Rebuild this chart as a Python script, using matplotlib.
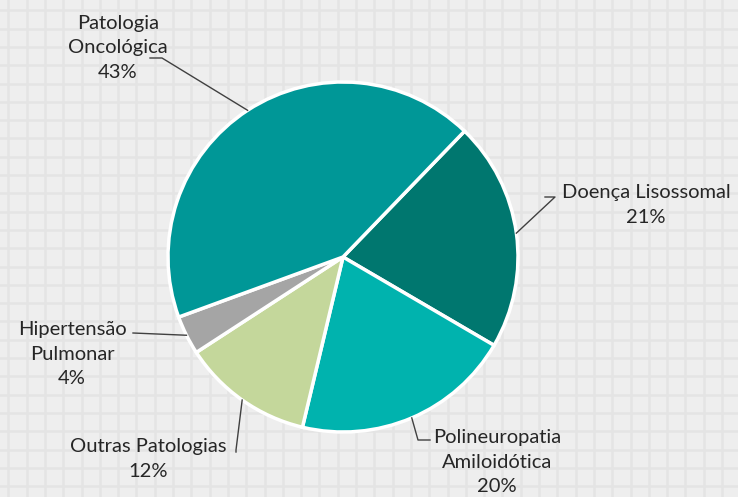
import numpy as np
import matplotlib
matplotlib.use("Agg")
import matplotlib.pyplot as plt

plt.rcParams['font.family'] = ['Lato', 'DejaVu Sans']

# dados (ordem no sentido horário a partir do topo direito)
labels = ["Doença Lisossomal", "Polineuropatia\nAmiloidótica", "Outras Patologias",
          "Hipertensão\nPulmonar", "Patologia\nOncológica"]
values = [21.2, 20.3, 12.1, 3.6, 42.8]
pct_labels = ["21%", "20%", "12%", "4%", "43%"]
colors = ["#00776f", "#00b3ae", "#c4d79b", "#a5a5a5", "#009797"]

W, H = 738, 497
fig = plt.figure(figsize=(W / 100, H / 100), dpi=100)
fig.patch.set_facecolor("#eeeeee")

# fundo quadriculado
bg = fig.add_axes([0, 0, 1, 1])
bg.set_xlim(0, W)
bg.set_ylim(H, 0)
bg.set_facecolor("#eeeeee")
for gx in np.arange(8.3, W, 18.3):
    bg.axvline(gx, color="#e4e4e4", lw=1.8, zorder=0)
for gy in np.arange(10.3, H, 18.3):
    bg.axhline(gy, color="#e4e4e4", lw=1.8, zorder=0)
bg.axis("off")

# pizza em coordenadas de pixel (y para cima)
ax = fig.add_axes([0, 0, 1, 1])
ax.patch.set_alpha(0)

cx, cy, r = 343, H - 257, 175
wedges, _ = ax.pie(values, colors=colors, startangle=46, counterclock=False,
                   center=(cx, cy), radius=r, frame=True,
                   wedgeprops=dict(edgecolor="white", linewidth=2.5))
ax.set_xlim(0, W)
ax.set_ylim(0, H)
ax.set_aspect("equal")
ax.axis("off")

# posição dos rótulos: (centro do texto, cotovelo, fim da linha) em pixels
layout = [
    ((646, 205), (555, 197), (545, 197)),
    ((497, 462), (418, 440), (430, 440)),
    ((148, 459), (236, 450), (236, 452)),
    ((72, 354), (133, 333), (133, 333)),
    ((118, 48), (162, 58), (150, 58)),
]

for w, lab, pct, (tpos, elbow, end) in zip(wedges, labels, pct_labels, layout):
    mid = np.deg2rad((w.theta1 + w.theta2) / 2)
    ex, ey = cx + r * np.cos(mid), cy + r * np.sin(mid)
    xs = [ex, elbow[0], end[0]]
    ys = [ey, H - elbow[1], H - end[1]]
    ax.plot(xs, ys, color="#404040", lw=1.0, zorder=5)
    ax.text(tpos[0], H - tpos[1], lab + "\n" + pct, ha="center", va="center",
            fontsize=14.5, color="#262626", linespacing=1.55)

fig.savefig("out.png", dpi=100, facecolor=fig.get_facecolor())
